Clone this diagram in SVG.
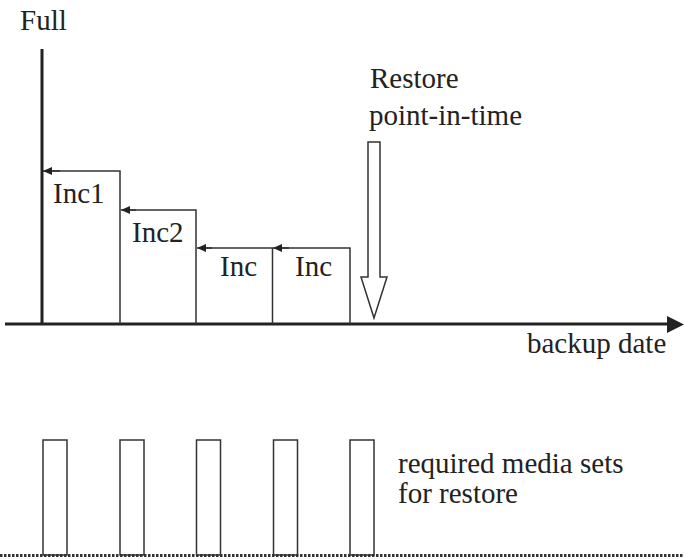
<svg xmlns="http://www.w3.org/2000/svg" width="684" height="559" viewBox="0 0 684 559">
<defs>
<style>
.t{font-size:29px;fill:#222}
.ln{stroke:#333;stroke-width:1.5;fill:none}
.ax{stroke:#222;stroke-width:3;fill:none}
.box{stroke:#333;stroke-width:1.5;fill:#fff}
</style>
<marker id="ah" markerWidth="10" markerHeight="8" refX="9" refY="4" orient="auto" markerUnits="userSpaceOnUse">
<path d="M0,0 L9,4 L0,8 Z" fill="#222"/>
</marker>
</defs>
<rect width="684" height="559" fill="#fff"/>
<g id="axes">
<line class="ax" x1="42" y1="49" x2="42" y2="324"/>
<line class="ax" x1="5" y1="324" x2="670" y2="324"/>
<path d="M667,316 L684,324.5 L667,333 Z" fill="#222"/>
</g>
<g id="full-label"><text class="t" font-family="serif" x="20" y="30" font-size="28">Full</text></g>
<g id="inc1">
<polyline class="ln" points="120,324 120,171 50,171"/>
<text class="t" font-family="serif" x="53" y="203">Inc1</text>
</g>
<g id="inc2">
<polyline class="ln" points="196,324 196,210 128,210"/>
<text class="t" font-family="serif" x="132" y="242">Inc2</text>
</g>
<g id="inc3">
<polyline class="ln" points="272.5,324 272.5,248 204,248"/>
<text class="t" font-family="serif" x="220" y="276">Inc</text>
</g>
<g id="inc4">
<polyline class="ln" points="350,324 350,248 281,248"/>
<text class="t" font-family="serif" x="295" y="276">Inc</text>
</g>
<g id="connectors">
<line class="ln" x1="60" y1="171" x2="43" y2="171" marker-end="url(#ah)"/>
<line class="ln" x1="136" y1="210" x2="121" y2="210" marker-end="url(#ah)"/>
<line class="ln" x1="212" y1="248" x2="197" y2="248" marker-end="url(#ah)"/>
<line class="ln" x1="289" y1="248" x2="273" y2="248" marker-end="url(#ah)"/>
</g>
<g id="restore">
<path class="ln" d="M368,142 L380,142 L380,277 L387,277 L374,318 L361,277 L368,277 Z"/>
<text class="t" font-family="serif" x="370" y="88">Restore</text>
<text class="t" font-family="serif" x="369" y="125">point-in-time</text>
</g>
<g id="backup-date"><text class="t" font-family="serif" x="527" y="353">backup date</text></g>
<g id="media">
<rect class="box" x="43" y="440" width="24" height="115"/>
<rect class="box" x="120" y="440" width="24" height="115"/>
<rect class="box" x="196.5" y="440" width="24" height="115"/>
<rect class="box" x="273.5" y="440" width="24" height="115"/>
<rect class="box" x="350" y="440" width="24" height="115"/>
<text class="t" font-family="serif" x="398" y="473">required media sets</text>
<text class="t" font-family="serif" x="398" y="503">for restore</text>
</g>
<line x1="0" y1="555.5" x2="684" y2="555.5" stroke="#333" stroke-width="3" stroke-dasharray="2.5 1.5"/>
</svg>
